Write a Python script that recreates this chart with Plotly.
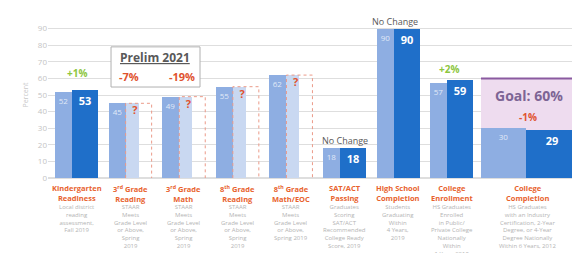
import plotly.graph_objects as go

# ---------------- data ----------------
heads = ["Kindergarten<br>Readiness", "3<sup>rd</sup> Grade<br>Reading", "3<sup>rd</sup> Grade<br>Math",
         "8<sup>th</sup> Grade<br>Reading", "8<sup>th</sup> Grade<br>Math/EOC", "SAT/ACT<br>Passing",
         "High School<br>Completion", "College<br>Enrollment", "College<br>Completion"]
subs = ["Local district<br>reading<br>assessment,<br>Fall 2019",
        "STAAR<br>Meets<br>Grade Level<br>or Above,<br>Spring<br>2019",
        "STAAR<br>Meets<br>Grade Level<br>or Above,<br>Spring<br>2019",
        "STAAR<br>Meets<br>Grade Level<br>or Above,<br>Spring<br>2019",
        "STAAR<br>Meets<br>Grade Level<br>or Above,<br>Spring 2019",
        "Graduates<br>Scoring<br>SAT/ACT<br>Recommended<br>College Ready<br>Score, 2019",
        "Students<br>Graduating<br>Within<br>4 Years,<br>2019",
        "HS Graduates<br>Enrolled<br>in Public/<br>Private College<br>Nationally<br>Within<br>1 Year, 2019",
        "HS Graduates<br>with an Industry<br>Certification, 2-Year<br>Degree, or 4-Year<br>Degree Nationally<br>Within 6 Years, 2012"]
prior = [52, 45, 49, 55, 62, 18, 90, 57, 30]
current = [53, None, None, None, None, 18, 90, 59, 29]
changes = ["+1%", None, None, None, None, "No Change", "No Change", "+2%", "-1%"]
prelim_changes = ["-7%", "-19%"]   # for 3rd grade reading & math
goal = 60

# ---------------- geometry ----------------
centers = [0, 1, 2, 3, 4, 5, 6, 7, 8.42]
light_off = [-0.243] * 8 + [-0.454]
light_w = [0.317] * 8 + [0.84]
dark_off = [0.159] * 8 + [0.457]
dark_w = [0.485] * 8 + [0.97]

LIGHT = "#8eaee2"
DARK = "#1f6fc9"
PALE = "#c9d8f1"
RED = "#e0532f"
GREEN = "#8dc63f"
GRAY_TXT = "#595959"

fig = go.Figure()

lx = [c + o for c, o in zip(centers, light_off)]
fig.add_trace(go.Bar(x=lx, y=prior, width=light_w, marker_color=LIGHT, marker_line_width=0,
                     text=[str(v) for v in prior], textposition="inside", insidetextanchor="end",
                     textfont=dict(size=8, color="rgba(255,255,255,0.75)", family="Open Sans"),
                     constraintext="none", showlegend=False, hoverinfo="skip"))

kn = [i for i, v in enumerate(current) if v is not None]
fig.add_trace(go.Bar(x=[centers[i] + dark_off[i] for i in kn], y=[current[i] for i in kn],
                     width=[dark_w[i] for i in kn], marker_color=DARK, marker_line_width=0,
                     text=[str(current[i]) for i in kn], textposition="inside", insidetextanchor="end",
                     textfont=dict(size=11, color="white", family="Open Sans", weight="bold"),
                     constraintext="none", showlegend=False, hoverinfo="skip"))

# unknown (prelim) bars: pale partial fill + red dotted outline with "?"
unk = [i for i, v in enumerate(current) if v is None]
fig.add_trace(go.Bar(x=[centers[i] + dark_off[i] - dark_w[i] / 4 for i in unk], y=[prior[i] for i in unk],
                     width=[dark_w[i] / 2 for i in unk], marker_color=PALE, marker_line_width=0,
                     showlegend=False, hoverinfo="skip"))
for i in unk:
    x0 = centers[i] + dark_off[i] - dark_w[i] / 2
    x1 = centers[i] + dark_off[i] + dark_w[i] / 2
    v = prior[i]
    fig.add_trace(go.Scatter(x=[x0, x0, x1, x1], y=[0, v, v, 0], mode="lines",
                             line=dict(color="#eb9a88", width=1, dash="dot"),
                             showlegend=False, hoverinfo="skip"))
    fig.add_trace(go.Scatter(x=[centers[i] + dark_off[i] - 0.07], y=[v - 5], mode="text", text=["?"],
                             textfont=dict(size=11, color=RED, family="Open Sans", weight="bold"),
                             showlegend=False, hoverinfo="skip"))

# goal box behind College Completion
gx0 = centers[8] + light_off[8] - light_w[8] / 2
fig.add_shape(type="rect", xref="x", yref="y", x0=gx0, x1=9.4, y0=0, y1=goal,
              fillcolor="#eedcef", line_width=0, layer="between")
fig.add_shape(type="line", xref="x", yref="y", x0=gx0, x1=9.4, y0=goal, y1=goal,
              line=dict(color="#8a5aa0", width=2), layer="between")
fig.add_annotation(x=centers[8] + 0.02, y=goal - 10.5, text="<b>Goal: 60%</b>", showarrow=False,
                   font=dict(size=14, color="#7d6595", family="Open Sans"))
fig.add_annotation(x=centers[8], y=goal - 23.5, text="<b>" + changes[8] + "</b>", showarrow=False,
                   font=dict(size=10, color=RED, family="Open Sans"))

# change labels
fig.add_annotation(x=centers[0], y=63.5, text="<b>" + changes[0] + "</b>", showarrow=False,
                   font=dict(size=10, color=GREEN, family="Open Sans"))
fig.add_annotation(x=centers[7] - 0.05, y=65.5, text="<b>" + changes[7] + "</b>", showarrow=False,
                   font=dict(size=10, color=GREEN, family="Open Sans"))
fig.add_annotation(x=centers[5], y=prior[5] + 4.5, text=changes[5], showarrow=False,
                   font=dict(size=9, color=GRAY_TXT, family="Open Sans"))
fig.add_annotation(x=centers[6] - 0.05, y=prior[6] + 4.5, text=changes[6], showarrow=False,
                   font=dict(size=9, color=GRAY_TXT, family="Open Sans"))

# Prelim 2021 box
fig.add_shape(type="rect", xref="x", yref="y", x0=0.644, x1=2.304, y0=54.8, y1=79,
              fillcolor="white", line=dict(color="#b0b0b0", width=1), layer="above")
fig.add_annotation(x=1.47, y=72.3, text="<b><u>Prelim 2021</u></b>", showarrow=False,
                   font=dict(size=12, color=GRAY_TXT, family="Open Sans"))
fig.add_annotation(x=0.97, y=61.2, text="<b>" + prelim_changes[0] + "</b>", showarrow=False,
                   font=dict(size=11, color=RED, family="Open Sans"))
fig.add_annotation(x=1.97, y=61.2, text="<b>" + prelim_changes[1] + "</b>", showarrow=False,
                   font=dict(size=11, color=RED, family="Open Sans"))

# category labels
for c, h, s in zip(centers, heads, subs):
    fig.add_annotation(x=c, y=-0.018, xref="x", yref="paper", yanchor="top", text="<b>" + h + "</b>",
                       showarrow=False, font=dict(size=7.5, color="#e8622e", family="Open Sans"))
    fig.add_annotation(x=c, y=-0.14, xref="x", yref="paper", yanchor="top", text=s,
                       showarrow=False, font=dict(size=6, color="#b4b4b4", family="Open Sans"))

# the page body has an 8px default margin, so the figure is sized/offset to compensate
fig.update_layout(
    width=572, height=245, margin=dict(l=40, r=2, t=4, b=75, autoexpand=False),
    paper_bgcolor="white", plot_bgcolor="white", barmode="overlay", bargap=0,
    font=dict(family="Open Sans"),
    xaxis=dict(range=[-0.532, 9.356], showticklabels=False, showgrid=False, zeroline=False,
               showline=False, fixedrange=True, automargin=False),
    yaxis=dict(range=[0, 100], dtick=10, showgrid=True, gridcolor="#dedede", gridwidth=1,
               zeroline=True, zerolinecolor="#dedede", automargin=False,
               tickfont=dict(size=8, color="#c4c4c4"),
               title=dict(text="Percent", font=dict(size=7, color="#c8c8c8"), standoff=8)),
)

fig.write_html("out.html")
